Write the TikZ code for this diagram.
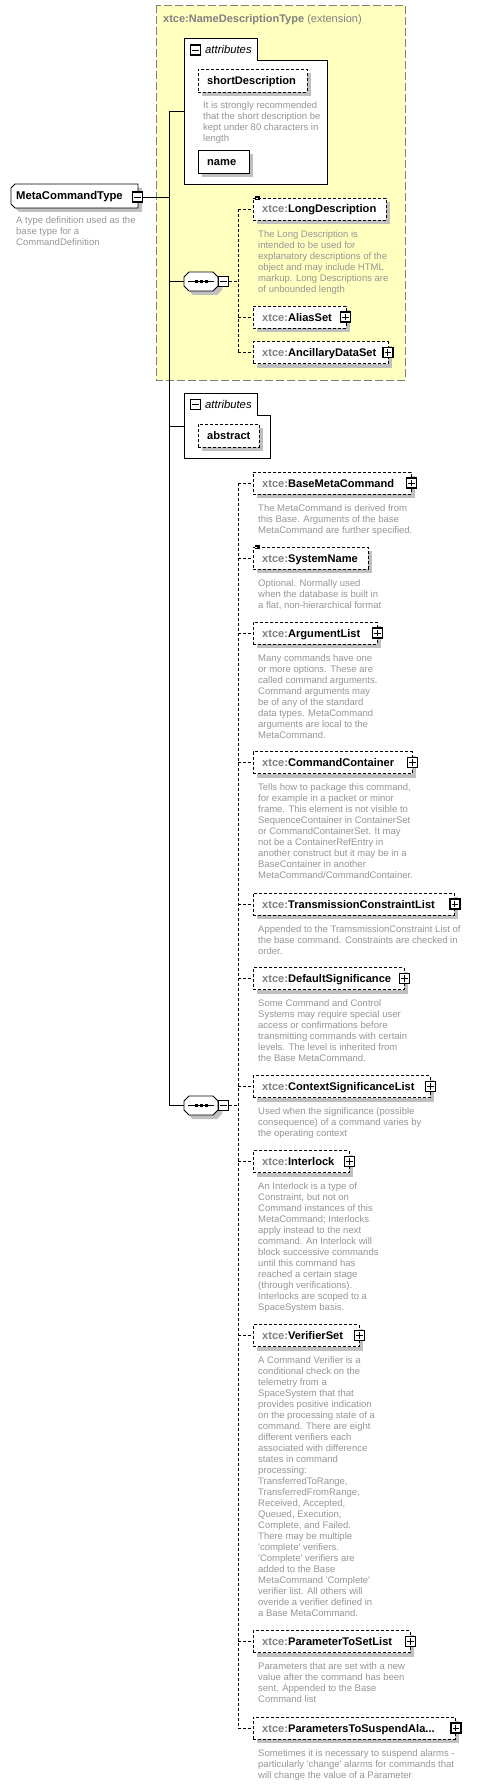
\documentclass[tikz,border=0pt]{standalone}
\usepackage{fontspec}
\setmainfont{Liberation Sans}
\newfontfamily\docfont{Liberation Sans}
\usetikzlibrary{shadows}
\definecolor{xgray}{RGB}{128,128,128}
\definecolor{docgray}{RGB}{150,150,150}
\definecolor{shgray}{RGB}{192,192,192}
\definecolor{extyellow}{RGB}{255,255,192}
\definecolor{extborder}{RGB}{128,128,128}
\tikzset{
 fine dash/.style={dash pattern=on 3pt off 2pt},
 elbox/.style={draw, fine dash, fill=white, minimum height=22pt, inner sep=0, anchor=west, line width=0.9pt,
   drop shadow={shadow xshift=4pt, shadow yshift=-4pt, fill=shgray, opacity=1}},
 solidbox/.style={elbox, solid},
 lbl/.style={anchor=base west, inner sep=0, font=\fontsize{11.1}{13}\selectfont\bfseries},
 doc/.style={anchor=north west, inner sep=0, align=left, font=\docfont\fontsize{9.5}{11}\selectfont, text=docgray},
 pmbox/.style={draw, line width=1.2pt, fill=white, minimum size=10pt, inner sep=0},
 pmline/.style={line width=0.9pt},
 conn/.style={line width=0.9pt},
 dconn/.style={line width=0.9pt, fine dash},
 attrbox/.style={draw, fill=white, line width=0.9pt},
 anchorbox/.style={inner sep=0, outer sep=0},
}
\newcommand\pmplus[2]{\node[pmbox] (#1) at (#2) {};
  \draw[pmline] ([xshift=-3.2pt]#1.center) -- ([xshift=3.2pt]#1.center) ([yshift=-3.2pt]#1.center) -- ([yshift=3.2pt]#1.center);}
\newcommand\pmminus[2]{\node[pmbox] (#1) at (#2) {};
  \draw[pmline] ([xshift=-3.2pt]#1.center) -- ([xshift=3.2pt]#1.center);}
\newcommand\xel[4]{%
  \node[elbox, minimum width=#3pt] (#1) at (253,#2) {};
  \node[lbl] at ([xshift=9pt,yshift=-4pt]#1.west) {\textcolor{xgray}{xtce:}#4};}
\newcommand\xdoc[2]{\node[doc] (#1d) at ([xshift=5pt,yshift=-9.5pt]#1.south west) {#2};}
\newcommand\simpicon[1]{\draw[line width=0.5pt]
  ([xshift=2pt,yshift=1.6pt]#1.north west) -- ++(5,0)
  ([xshift=2pt]#1.north west) -- ++(5,0)
  ([xshift=2pt,yshift=-1.6pt]#1.north west) -- ++(5,0);}
\newcommand\seqnode[3]{%
  \begin{scope}[shift={(#2,#3)}]
   \fill[shgray, shift={(4,4)}] (-12,-9.5) -- (12,-9.5) -- (17,-4.5) -- (17,4.5) -- (12,9.5) -- (-12,9.5) -- (-17,4.5) -- (-17,-4.5) -- cycle;
   \draw[fill=white, line width=0.9pt] (-12,-9.5) -- (12,-9.5) -- (17,-4.5) -- (17,4.5) -- (12,9.5) -- (-12,9.5) -- (-17,4.5) -- (-17,-4.5) -- cycle;
   \draw[line width=0.9pt] (-13,0) -- (13,0);
   \fill (-6.5,-1.5) rectangle (-3.5,1.5);
   \fill (-1.5,-1.5) rectangle (1.5,1.5);
   \fill (3.5,-1.5) rectangle (6.5,1.5);
  \end{scope}
  \node[anchorbox, minimum width=34pt, minimum height=19pt] (#1) at (#2,#3) {};
  \pmminus{#1m}{[xshift=5.5pt]#1.east}}
\begin{document}
\begin{tikzpicture}[x=1pt,y=-1pt]
\useasboundingbox (0,0) rectangle (483,1784);
\fill[white] (0,0) rectangle (483,1784);

% extension box
\draw[extborder, fill=extyellow, dash pattern=on 8pt off 3pt, line width=0.9pt] (156,5) rectangle (405,380);
\node[anchor=base west, inner sep=0, font=\fontsize{11}{13}\selectfont, text=xgray] (title) at (163,23)
  {\textbf{xtce:NameDescriptionType} (extension)};

% MetaCommandType
\fill[shgray, shift={(4,4)}] (15,184) -- (138,184) -- (138,208) -- (15,208) -- (11,204) -- (11,188) -- cycle;
\draw[fill=white, line width=0.9pt] (15,184) -- (138,184) -- (138,208) -- (15,208) -- (11,204) -- (11,188) -- cycle;
\node[anchorbox, minimum width=127pt, minimum height=24pt] (mct) at (74.5,196) {};
\node[lbl, font=\fontsize{11.3}{13}\selectfont\bfseries] at (16,200) {MetaCommandType};
\pmminus{mctm}{137.5,197}
\node[doc] (mctd) at (16,216.5) {A type definition used as the\\base type for a\\CommandDefinition};

% attributes 1
\draw[attrbox] (184,184) -- (184,38) -- (257,38) -- (257,60) -- (327,60) -- (327,184) -- cycle;
\pmminus{at1m}{195.5,50}
\node[anchor=base west, inner sep=0, font=\fontsize{11.3}{13}\selectfont\itshape] at (205,54) {attributes};
\coordinate (a1) at (184,111);
\node[elbox, minimum width=109pt, minimum height=23pt] (sdesc) at (198,80.5) {};
\node[lbl] at ([xshift=9pt,yshift=-4pt]sdesc.west) {shortDescription};
\node[doc] (sdescd) at (203,101.5) {It is strongly recommended\\that the short description be\\kept under 80 characters in\\length};
\node[solidbox, minimum width=51pt, minimum height=23pt] (nm) at (198,161.5) {};
\node[lbl] at ([xshift=9pt,yshift=-4pt]nm.west) {name};

% sequence 1
\seqnode{seq1}{201}{281.5}
\xel{ldesc}{209}{133}{LongDescription}
\simpicon{ldesc}
\xdoc{ldesc}{The Long Description is\\intended to be used for\\explanatory descriptions of the\\object and may include HTML\\markup.  Long Descriptions are\\of unbounded length}
\xel{alias}{317}{93}{AliasSet}
\pmplus{aliasp}{[xshift=-1.5pt]alias.east}
\xel{ancil}{352.5}{135}{AncillaryDataSet}
\pmplus{ancilp}{[xshift=-1pt]ancil.east}

% attributes 2
\draw[attrbox] (184,458) -- (184,393) -- (257,393) -- (257,415) -- (270,415) -- (270,458) -- cycle;
\pmminus{at2m}{195.5,404.5}
\node[anchor=base west, inner sep=0, font=\fontsize{11.3}{13}\selectfont\itshape] at (205,408.5) {attributes};
\coordinate (a2) at (184,426);
\node[elbox, minimum width=61pt, minimum height=23pt] (abs) at (198,435.5) {};
\node[lbl] at ([xshift=9pt,yshift=-4pt]abs.west) {abstract};

% sequence 2
\seqnode{seq2}{201}{1105.5}
\xel{bmc}{483}{158}{BaseMetaCommand}
\pmplus{bmcp}{[xshift=-0.5pt]bmc.east}
\xdoc{bmc}{The MetaCommand is derived from\\this Base.  Arguments of the base\\MetaCommand are further specified.}
\xel{sysn}{558}{115}{SystemName}
\simpicon{sysn}
\xdoc{sysn}{Optional.  Normally used\\when the database is built in\\a flat, non-hierarchical format}
\xel{argl}{633}{124}{ArgumentList}
\pmplus{arglp}{[xshift=-0.5pt]argl.east}
\xdoc{argl}{Many commands have one\\or more options.  These are\\called command arguments.\\Command arguments may\\be of any of the standard\\data types.  MetaCommand\\arguments are local to the\\MetaCommand.}
\xel{cmdc}{762.5}{159}{CommandContainer}
\pmplus{cmdcp}{[xshift=-0.5pt]cmdc.east}
\xdoc{cmdc}{Tells how to package this command,\\for example in a packet or minor\\frame.  This element is not visible to\\SequenceContainer in ContainerSet\\or CommandContainerSet. It may\\not be a ContainerRefEntry in\\another construct but it may be in a\\BaseContainer in another\\MetaCommand/CommandContainer.}
\xel{tcl}{904}{201}{TransmissionConstraintList}
\pmplus{tclp}{[xshift=0pt]tcl.east}
\xdoc{tcl}{Appended to the TramsmissionConstraint List of\\the base command.  Constraints are checked in\\order.}
\xel{dsig}{978.5}{151}{DefaultSignificance}
\pmplus{dsigp}{[xshift=-0.5pt]dsig.east}
\xdoc{dsig}{Some Command and Control\\Systems may require special user\\access or confirmations before\\transmitting commands with certain\\levels.  The level is inherited from\\the Base MetaCommand.}
\xel{csl}{1086.5}{177}{ContextSignificanceList}
\pmplus{cslp}{[xshift=-0.5pt]csl.east}
\xdoc{csl}{Used when the significance (possible\\consequence) of a command varies by\\the operating context}
\xel{intl}{1161.5}{96}{Interlock}
\pmplus{intlp}{[xshift=-0.5pt]intl.east}
\xdoc{intl}{An Interlock is a type of\\Constraint, but not on\\Command instances of this\\MetaCommand; Interlocks\\apply instead to the next\\command.  An Interlock will\\block successive commands\\until this command has\\reached a certain stage\\(through verifications).\\Interlocks are scoped to a\\SpaceSystem basis.}
\xel{vset}{1335.5}{106}{VerifierSet}
\pmplus{vsetp}{[xshift=-0.5pt]vset.east}
\xdoc{vset}{A Command Verifier is a\\conditional check on the\\telemetry from a\\SpaceSystem that that\\provides positive indication\\on the processing state of a\\command.  There are eight\\different verifiers each\\associated with difference\\states in command\\processing:\\TransferredToRange,\\TransferredFromRange,\\Received, Accepted,\\Queued, Execution,\\Complete, and Failed.\\There may be multiple\\'complete' verifiers.\\'Complete' verifiers are\\added to the Base\\MetaCommand 'Complete'\\verifier list.  All others will\\overide a verifier defined in\\a Base MetaCommand.}
\xel{ptsl}{1641.5}{157}{ParameterToSetList}
\pmplus{ptslp}{[xshift=-0.5pt]ptsl.east}
\xdoc{ptsl}{Parameters that are set with a new\\value after the command has been\\sent.  Appended to the Base\\Command list}
\xel{ptsa}{1728}{202}{ParametersToSuspendAla...}
\pmplus{ptsap}{[xshift=0pt]ptsa.east}
\xdoc{ptsa}{Sometimes it is necessary to suspend alarms -\\particularly 'change' alarms for commands that\\will change the value of a Parameter}

% solid connectors
\coordinate (tr) at (169,111);
\draw[conn] (mctm.east) -- (mctm.east -| tr);
\draw[conn] (a1) -- (tr) -- (tr |- seq2.west) -- (seq2.west);
\draw[conn] (tr |- seq1.west) -- (seq1.west);
\draw[conn] (tr |- a2) -- (a2);

% dashed connectors, sequence 1
\coordinate (s1x) at (238,0);
\draw[dconn] (seq1m.east) -- (seq1m.east -| s1x);
\draw[dconn] (s1x |- ldesc.west) -- (s1x |- ancil.west);
\foreach \c in {ldesc,alias,ancil} \draw[dconn] (s1x |- \c.west) -- (\c.west);

% dashed connectors, sequence 2
\draw[dconn] (seq2m.east) -- (seq2m.east -| s1x);
\draw[dconn] (s1x |- bmc.west) -- (s1x |- ptsa.west);
\foreach \c in {bmc,sysn,argl,cmdc,tcl,dsig,csl,intl,vset,ptsl,ptsa} \draw[dconn] (s1x |- \c.west) -- (\c.west);
\end{tikzpicture}
\end{document}
